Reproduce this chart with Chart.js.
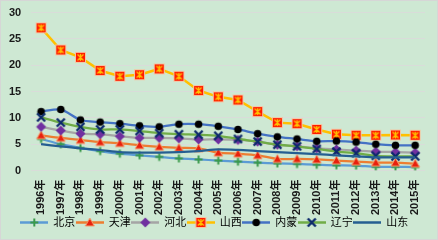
<!DOCTYPE html>
<html lang="zh-CN">
<head>
  <meta charset="UTF-8">
  <title>1996-2015年 各省份折线图</title>
  <script src="https://cdn.jsdelivr.net/npm/chart.js"></script>
  <style>
    html, body { margin: 0; padding: 0; }
    body { width: 438px; height: 240px; overflow: hidden; }
    #wrap {
      width: 438px; height: 240px; box-sizing: border-box;
      background: rgb(206, 232, 211);
      border: 1px solid #d6d6d6;
    }
  </style>
</head>
<body>
  <div id="wrap"><canvas id="chart" width="436" height="238"></canvas></div>

  <script>
    const years = ['1996年', '1997年', '1998年', '1999年', '2000年', '2001年', '2002年', '2003年', '2004年', '2005年',
      '2006年', '2007年', '2008年', '2009年', '2010年', '2011年', '2012年', '2013年', '2014年', '2015年'];

    const beijing  = [6.0, 5.0, 4.3, 3.7, 3.2, 2.9, 2.6, 2.3, 2.1, 1.9, 1.7, 1.5, 1.35, 1.25, 1.1, 1.0, 0.95, 0.7, 0.7, 0.65];
    const tianjin  = [6.7, 6.2, 5.8, 5.4, 5.2, 4.8, 4.5, 4.3, 4.2, 3.4, 3.2, 2.9, 2.2, 2.2, 2.1, 1.9, 1.7, 1.5, 1.5, 1.3];
    const hebei    = [8.3, 7.6, 7.0, 6.9, 6.5, 6.2, 6.2, 6.1, 5.9, 5.9, 5.8, 5.5, 4.9, 4.6, 4.2, 4.0, 3.8, 3.6, 3.5, 3.4];
    const shanxi   = [27.1, 22.9, 21.5, 19.0, 17.9, 18.2, 19.3, 17.9, 15.2, 14.0, 13.4, 11.2, 9.1, 8.9, 7.8, 6.9, 6.7, 6.7, 6.75, 6.7];
    const neimeng  = [11.2, 11.6, 9.6, 9.2, 8.9, 8.5, 8.3, 8.8, 8.8, 8.4, 7.8, 7.0, 6.4, 6.0, 5.55, 5.6, 5.4, 5.0, 4.8, 4.8];
    const liaoning = [10.1, 9.1, 8.3, 7.8, 7.8, 7.5, 7.1, 6.9, 6.8, 6.6, 6.0, 5.5, 4.9, 4.6, 4.1, 3.6, 3.3, 2.8, 2.7, 2.7];
    const shandong = [5.0, 4.6, 4.2, 3.9, 3.5, 3.4, 3.4, 3.5, 3.7, 4.0, 3.9, 3.7, 3.5, 3.3, 3.1, 2.9, 2.7, 2.5, 2.5, 2.5];

    const yTicks = [0, 5, 10, 15, 20, 25, 30];

    const series = [
      { name: '北京', data: beijing,  line: '#5b9bd5', mark: 'plus' },
      { name: '天津', data: tianjin,  line: '#ed7d31', mark: 'triangle' },
      { name: '河北', data: hebei,    line: '#a5a5a5', mark: 'diamond' },
      { name: '山西', data: shanxi,   line: '#ffc000', mark: 'xsquare' },
      { name: '内蒙', data: neimeng,  line: '#4472c4', mark: 'circle' },
      { name: '辽宁', data: liaoning, line: '#70ad47', mark: 'cross' },
      { name: '山东', data: shandong, line: '#255e91', mark: null }
    ];

    // draw one marker centred at (x, y)
    function drawMark(ctx, kind, x, y) {
      ctx.save();
      ctx.lineCap = 'butt';
      if (kind === 'plus') {
        ctx.strokeStyle = '#3a9a4a';
        ctx.lineWidth = 2;
        ctx.beginPath();
        ctx.moveTo(x - 4, y); ctx.lineTo(x + 4, y);
        ctx.moveTo(x, y - 4); ctx.lineTo(x, y + 4);
        ctx.stroke();
      } else if (kind === 'triangle') {
        ctx.fillStyle = '#e8200c';
        ctx.strokeStyle = '#f4a070';
        ctx.lineWidth = 1;
        ctx.beginPath();
        ctx.moveTo(x, y - 4.5); ctx.lineTo(x + 4.5, y + 3.5); ctx.lineTo(x - 4.5, y + 3.5);
        ctx.closePath();
        ctx.fill(); ctx.stroke();
      } else if (kind === 'diamond') {
        ctx.fillStyle = '#7030a0';
        ctx.beginPath();
        ctx.moveTo(x, y - 5); ctx.lineTo(x + 5, y); ctx.lineTo(x, y + 5); ctx.lineTo(x - 5, y);
        ctx.closePath();
        ctx.fill();
      } else if (kind === 'xsquare') {
        ctx.fillStyle = '#f5c6a0';
        ctx.fillRect(x - 5.5, y - 5.5, 11, 11);
        ctx.fillStyle = '#ff1a00';
        ctx.fillRect(x - 4.5, y - 4.5, 9, 9);
        ctx.strokeStyle = '#ffc000';
        ctx.lineWidth = 1.3;
        ctx.beginPath();
        ctx.moveTo(x - 3, y - 3); ctx.lineTo(x + 3, y + 3);
        ctx.moveTo(x + 3, y - 3); ctx.lineTo(x - 3, y + 3);
        ctx.moveTo(x, y - 3.5); ctx.lineTo(x, y + 3.5);
        ctx.stroke();
      } else if (kind === 'circle') {
        ctx.fillStyle = '#000000';
        ctx.beginPath();
        ctx.arc(x, y, 3.8, 0, Math.PI * 2);
        ctx.fill();
      } else if (kind === 'cross') {
        ctx.strokeStyle = '#0d2a6b';
        ctx.lineWidth = 2.4;
        ctx.beginPath();
        ctx.moveTo(x - 4, y - 4); ctx.lineTo(x + 4, y + 4);
        ctx.moveTo(x + 4, y - 4); ctx.lineTo(x - 4, y + 4);
        ctx.stroke();
      }
      ctx.restore();
    }

    function markerImage(kind) {
      const c = document.createElement('canvas');
      c.width = 13; c.height = 13;
      drawMark(c.getContext('2d'), kind, 6.5, 6.5);
      return c;
    }

    function legendImage(s) {
      const c = document.createElement('canvas');
      c.width = 28; c.height = 13;
      const ctx = c.getContext('2d');
      ctx.strokeStyle = s.line;
      ctx.lineWidth = 2.5;
      ctx.beginPath();
      ctx.moveTo(0, 6.5); ctx.lineTo(28, 6.5);
      ctx.stroke();
      if (s.mark) drawMark(ctx, s.mark, 14, 6.5);
      return c;
    }

    const datasets = series.map((s, i) => ({
      label: s.name,
      data: s.data,
      borderColor: s.line,
      backgroundColor: s.line,
      borderWidth: s.mark === 'xsquare' ? 2.5 : 2.25,
      tension: s.mark === 'xsquare' ? 0 : 0.25,
      pointStyle: s.mark ? markerImage(s.mark) : false,
      pointRadius: s.mark ? 5 : 0,
      pointHoverRadius: s.mark ? 5 : 0,
      order: series.length - i,   // later series drawn on top, like the original
      legendImg: legendImage(s)
    }));

    new Chart(document.getElementById('chart'), {
      type: 'line',
      data: { labels: years, datasets },
      options: {
        responsive: false,
        animation: false,
        layout: { autoPadding: false, padding: { top: 0, right: 12, left: 3, bottom: 1 } },
        plugins: {
          tooltip: { enabled: false },
          legend: {
            position: 'bottom',
            labels: {
              usePointStyle: true,
              pointStyleWidth: 27,
              boxHeight: 11,
              padding: 1,
              color: '#262626',
              font: { family: 'Liberation Sans, Arial, Noto Sans CJK SC', size: 11 },
              generateLabels: chart => chart.data.datasets.map((d, i) => ({
                text: d.label,
                pointStyle: d.legendImg,
                fillStyle: d.borderColor,
                strokeStyle: d.borderColor,
                lineWidth: 0,
                hidden: false,
                datasetIndex: i
              }))
            }
          }
        },
        scales: {
          x: {
            offset: true,
            grid: { display: false, offset: true },
            border: { display: false },
            ticks: {
              minRotation: 90,
              maxRotation: 90,
              autoSkip: false,
              padding: 1,
              color: '#1a1a1a',
              font: { family: 'Liberation Sans, Arial, Noto Sans CJK SC', size: 11, weight: 'bold' }
            }
          },
          y: {
            min: 0,
            max: 30,
            afterBuildTicks: axis => { axis.ticks = yTicks.map(v => ({ value: v })); },
            grid: { color: '#d9dcd9', lineWidth: 1, drawTicks: true, tickLength: 5, tickColor: 'rgba(0,0,0,0)' },
            border: { display: false },
            ticks: {
              padding: 5,
              color: '#1a1a1a',
              font: { family: 'Liberation Sans, Arial', size: 11, weight: 'bold' }
            }
          }
        }
      }
    });
  </script>
</body>
</html>
